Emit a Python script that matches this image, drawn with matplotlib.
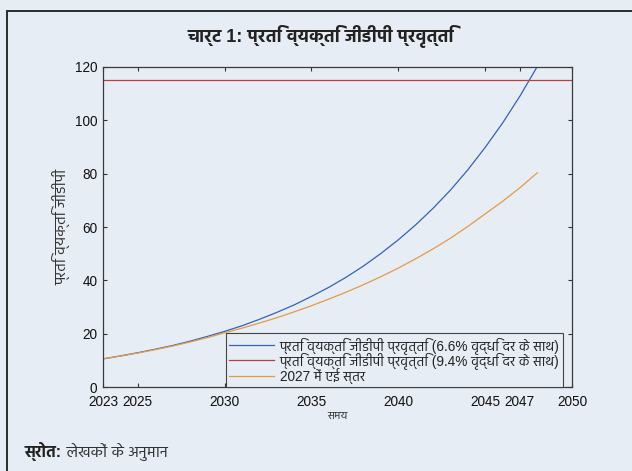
import matplotlib
matplotlib.use("Agg")
import matplotlib.pyplot as plt
from matplotlib.patches import Rectangle

# अनुमानित प्रति व्यक्ति जीडीपी, 2023 से 2048 तक हर वर्ष
years = [2023, 2024, 2025, 2026, 2027, 2028, 2029, 2030, 2031, 2032, 2033,
         2034, 2035, 2036, 2037, 2038, 2039, 2040, 2041, 2042, 2043, 2044,
         2045, 2046, 2047, 2048]
gdp_high = [10.6, 11.7, 12.9, 14.2, 15.6, 17.2, 19.0, 20.9, 23.0, 25.4, 28.0,
            30.8, 34.0, 37.4, 41.2, 45.4, 50.1, 55.2, 60.8, 67.0, 73.8, 81.4,
            89.8, 98.9, 109.0, 120.1]
gdp_low = [10.6, 11.65, 12.8, 14.05, 15.4, 16.9, 18.55, 20.35, 22.1, 24.0, 26.0,
           28.2, 30.5, 33.0, 35.6, 38.4, 41.4, 44.6, 48.1, 51.8, 55.8, 60.2,
           64.9, 69.6, 74.7, 80.3]
ae_level = 115

labels = ["प्रति व्यक्ति जीडीपी प्रवृत्ति (6.6% वृद्धि दर के साथ)",
          "प्रति व्यक्ति जीडीपी प्रवृत्ति (9.4% वृद्धि दर के साथ)",
          "2027 में एई स्तर"]
xticks = [2023, 2025, 2030, 2035, 2040, 2045, 2047, 2050]
yticks = [0, 20, 40, 60, 80, 100, 120]

BG = "#e7edf4"
FONTS = ["Liberation Sans", "Hind", "Noto Sans Devanagari", "Mukta", "DejaVu Sans"]
plt.rcParams["font.family"] = FONTS

fig = plt.figure(figsize=(6.32, 4.71), dpi=100, facecolor=BG)
ax = fig.add_axes([0.163, 0.178, 0.742, 0.680], facecolor=BG)

# बाहरी फ्रेम
fig.add_artist(Rectangle((7 / 632, -0.1), 1.2, 1.1 - 11 / 471,
                         transform=fig.transFigure, fill=False,
                         edgecolor="#2b2b2b", linewidth=1.4))

l1, = ax.plot(years, gdp_high, color="#3563b0", lw=0.9)
l2 = ax.axhline(ae_level, color="#b8403a", lw=0.9)
l3, = ax.plot(years, gdp_low, color="#e59a45", lw=0.9)

ax.set_xlim(2023, 2050)
ax.set_ylim(0, 120)
ax.set_xticks(xticks)
ax.set_yticks(yticks)
ax.tick_params(direction="in", length=3, width=0.8, color="#333333",
               top=True, right=True, labelsize=9.8, labelcolor="#111111")
ax.tick_params(axis="x", pad=6)
ax.tick_params(axis="y", pad=4)
for s in ax.spines.values():
    s.set_color("#3a3a3a")
    s.set_linewidth(0.9)

ax.set_xlabel("समय", fontsize=8, color="#333333", labelpad=1)
ax.set_ylabel("प्रति व्यक्ति जीडीपी", fontsize=11, color="#333333", labelpad=3)

leg = ax.legend([l1, l2, l3], labels, loc="lower right",
                bbox_to_anchor=(0.981, 0.0), borderaxespad=0, fontsize=9.8,
                fancybox=False, framealpha=1, facecolor=BG, edgecolor="#444444",
                handlelength=3.3, handletextpad=0.4, labelspacing=-0.1,
                borderpad=0.25)
leg.get_frame().set_linewidth(0.8)
for t in leg.get_texts():
    t.set_color("#222222")

fig.text(0.508, 1 - 36 / 471, "चार्ट 1: प्रति व्यक्ति जीडीपी प्रवृत्ति",
         ha="center", va="center", fontsize=13, fontweight="bold", color="#222222")

src = fig.text(25 / 632, 1 - 461 / 471, "स्रोत:", ha="left", va="bottom",
               fontsize=11.5, fontweight="bold", color="#222222")
ax.annotate(" लेखकों के अनुमान", xy=(1, 0), xycoords=src, ha="left", va="bottom",
            fontsize=11.5, color="#333333", annotation_clip=False)

fig.savefig("out.png", dpi=100, facecolor=BG)
